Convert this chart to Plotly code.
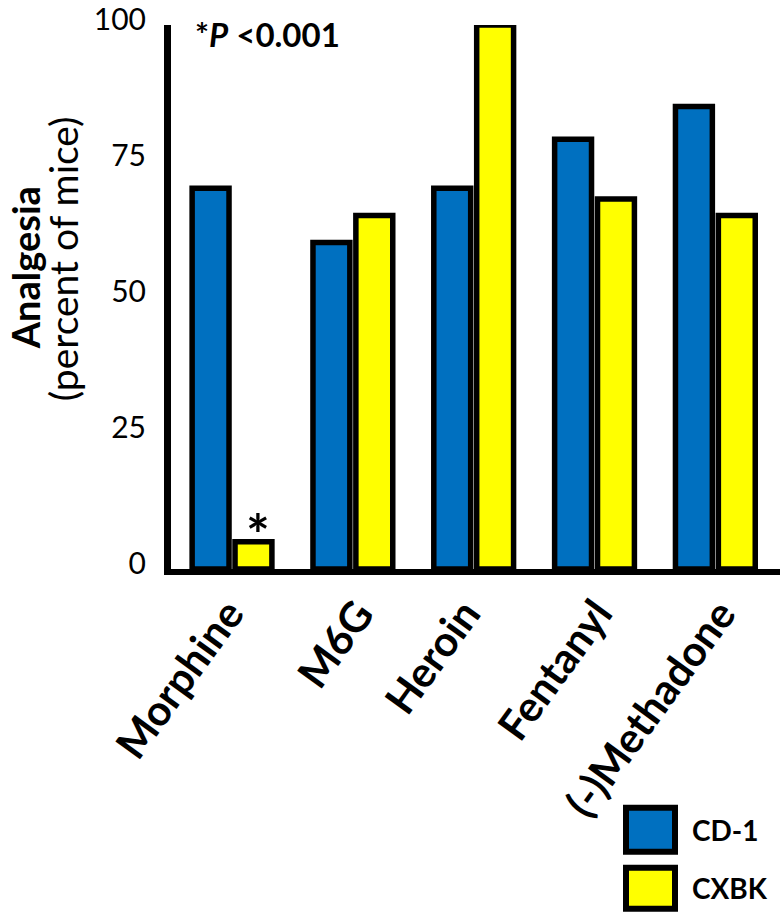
import plotly.graph_objects as go

categories = ["Morphine", "M6G", "Heroin", "Fentanyl", "(-)Methadone"]
cd1_values = [70, 60, 70, 79, 85]
cxbk_values = [5, 65, 100, 68, 65]
series_names = ["CD-1", "CXBK"]
ytick_values = [0, 25, 50, 75, 100]
ytick_labels = ["0", "25", "50", "75", "100"]

BLUE = "#0070C0"
YELLOW = "#FFFF00"
FONT = "Lato"

W, H = 783, 918
Y0_PX = 569.0          # pixel row of value 0
Y100_PX = 24.5         # pixel row of value 100
Y_MAX = 100
PX_PER_UNIT = (Y0_PX - Y100_PX) / 100.0
L, R = 171, 3
B = H - Y0_PX
T = Y0_PX - PX_PER_UNIT * Y_MAX
PW = W - L - R
PH = H - T - B


def px_x(px):
    return (px - L) / PW


def px_y(py):
    return (H - B - py) / PH


fig = go.Figure()
fig.add_trace(go.Bar(x=categories, y=cd1_values, name=series_names[0],
                     marker=dict(color=BLUE, line=dict(color="black", width=5.5)),
                     showlegend=False))
fig.add_trace(go.Bar(x=categories, y=cxbk_values, name=series_names[1],
                     marker=dict(color=YELLOW, line=dict(color="black", width=5.5)),
                     showlegend=False))

fig.update_layout(
    width=W, height=H,
    margin=dict(l=L, r=R, t=T, b=B, pad=0, autoexpand=False),
    paper_bgcolor="white", plot_bgcolor="white",
    barmode="group", bargap=0.29, bargroupgap=0.14,
    font=dict(family=FONT, color="black"),
)
fig.update_xaxes(range=[-0.505, 4.535], showticklabels=False, ticks="",
                 showline=True, linewidth=6, linecolor="black", showgrid=False,
                 zeroline=False)
fig.update_yaxes(range=[0, Y_MAX], tickvals=ytick_values, ticktext=ytick_labels,
                 ticks="", ticklabelstandoff=12, ticklabelshift=-6,
                 ticklabeloverflow="allow", automargin=False,
                 tickfont=dict(size=30, family=FONT, color="black"),
                 showline=True, linewidth=7, linecolor="black", showgrid=False,
                 zeroline=False)

# category labels (rotated)
label_xshift = [23, 33, 19, 30, 32]
for cat, xs in zip(categories, label_xshift):
    fig.add_annotation(x=cat, y=0, xref="x", yref="y", text="<b>%s</b>" % cat,
                       textangle=-54, xanchor="right", yanchor="top",
                       xshift=xs, yshift=-18, showarrow=False,
                       font=dict(size=42, family=FONT, color="black"))

# significance marker above Morphine CXBK
fig.add_annotation(x=categories[0], y=cxbk_values[0], xref="x", yref="y",
                   text="<b>*</b>", xshift=26, yshift=-27, yanchor="bottom",
                   showarrow=False, font=dict(size=56, family=FONT, color="black"))

fig.add_annotation(x=px_x(193), y=px_y(34), xref="paper", yref="paper",
                   text="<b>*<i>P</i> &lt;0.001</b>", xanchor="left", yanchor="middle",
                   showarrow=False, font=dict(size=33, family=FONT, color="black"))

# y titles
fig.add_annotation(x=px_x(25), y=px_y(268), xref="paper", yref="paper",
                   text="<b>Analgesia</b>", textangle=-90, xanchor="center",
                   yanchor="middle", showarrow=False,
                   font=dict(size=38, family=FONT, color="black"))
fig.add_annotation(x=px_x(63), y=px_y(259), xref="paper", yref="paper",
                   text="(percent of mice)", textangle=-90, xanchor="center",
                   yanchor="middle", showarrow=False,
                   font=dict(size=39, family=FONT, color="black"))

# legend drawn manually
legend_boxes = [(626, 808, 675, 852), (626, 868, 675, 909)]
colors = [BLUE, YELLOW]
for (x0, y0, x1, y1), c, name in zip(legend_boxes, colors, series_names):
    fig.add_shape(type="rect", xref="paper", yref="paper",
                  x0=px_x(x0), x1=px_x(x1), y0=px_y(y0), y1=px_y(y1),
                  fillcolor=c, line=dict(color="black", width=6))
    fig.add_annotation(x=px_x(690), y=px_y((y0 + y1) / 2), xref="paper", yref="paper",
                       text="<b>%s</b>" % name, xanchor="left", yanchor="middle",
                       showarrow=False, font=dict(size=28, family=FONT, color="black"))

fig.write_html("out.html", config={"displayModeBar": False},
               post_script="document.body.style.margin='0';"
                           "document.documentElement.style.margin='0';")
